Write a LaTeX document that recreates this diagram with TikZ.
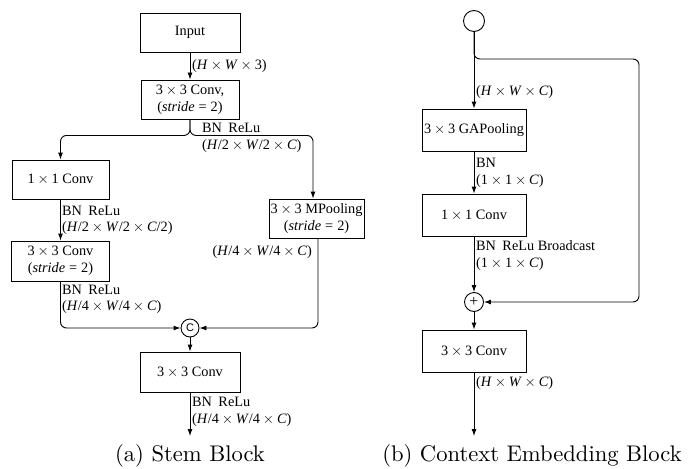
\documentclass[tikz,border=0pt]{standalone}
\usepackage{fontspec}
\newfontfamily\tms{Liberation Serif}
\newfontfamily\hlv{Liberation Sans}
\newfontfamily\capfont{lmroman10-regular.otf}
\usetikzlibrary{arrows.meta,calc}
\newcommand\X{\hspace{0.2em}$\times$\hspace{0.2em}}
\newcommand\Eq{\hspace{0.28em}=\hspace{0.28em}}
\newcommand\I[1]{\textit{#1}}
\newcommand\BR{BN\hspace{0.45em}ReLu}
\begin{document}
\begin{tikzpicture}[x=1pt,y=-1pt,
  box/.style={draw, line width=0.9pt, font=\tms\fontsize{14.3}{17}\selectfont, align=center, inner sep=0pt},
  lbl/.style={font=\tms\fontsize{14.3}{17}\selectfont, inner sep=0pt, anchor=west},
  captext/.style={font=\capfont\fontsize{22.6}{26}\selectfont, inner sep=0pt},
  arr/.style={-{Latex[length=7pt,width=5pt]}, line width=0.9pt},
  joint/.style={circle, draw, line width=0.9pt, inner sep=0pt}]
\useasboundingbox (0,0) rectangle (700,468);

% ---------- (a) Stem Block ----------
\node[box, minimum width=100, minimum height=39] (input) at (190,32.5) {Input};
\node[box, minimum width=98, minimum height=39] (c1) at (190,99.5) {3\X3 Conv,\\(\I{stride}\Eq2)};
\node[box, minimum width=97, minimum height=39] (c11) at (60.5,179.5) {1\X1 Conv};
\node[box, minimum width=98, minimum height=40] (c33) at (60.5,261) {3\X3 Conv\\(\I{stride}\Eq2)};
\node[box, minimum width=95, minimum height=39] (mp) at (316.5,218.5) {3\X3 MPooling\\(\I{stride}\Eq2)};
\node[joint, minimum size=18, font=\hlv\fontsize{11}{11}\selectfont] (cat) at (190,328) {C};
\node[box, minimum width=100, minimum height=40] (c3) at (190,372) {3\X3 Conv};
\coordinate (oa) at (190,436);

\draw[arr] (input) -- (c1);
\draw[arr, rounded corners=6] (c1.south) -- ($(c1.south)+(0,16)$) -| (c11.north);
\draw[arr, rounded corners=6] (c1.south) -- ($(c1.south)+(0,16)$) -| ($(mp.north)+(-3.5,0)$);
\draw[arr] (c11) -- (c33);
\draw[arr, rounded corners=6] (c33.south) |- (cat.west);
\draw[arr, rounded corners=6] ($(mp.south)+(1.5,0)$) |- (cat.east);
\draw[arr] (cat) -- (c3);
\draw[arr] (c3) -- (oa);

\node[lbl] (l1) at (192,66) {(\I{H}\X\I{W}\X3)};
\node[lbl] (l2a) at (202,128) {\BR};
\node[lbl] (l2b) at (202,146) {(\I{H}/2\X\I{W}/2\X\I{C})};
\node[lbl] (l3a) at (62,210.5) {\BR};
\node[lbl] (l3b) at (62,228.5) {(\I{H}/2\X\I{W}/2\X\I{C}/2)};
\node[lbl] (l4a) at (62,289.5) {\BR};
\node[lbl] (l4b) at (62,307.5) {(\I{H}/4\X\I{W}/4\X\I{C})};
\node[lbl, anchor=east] (l5) at (312,252) {(\I{H}/4\X\I{W}/4\X\I{C})};
\node[lbl] (l6a) at (192,402) {\BR};
\node[lbl] (l6b) at (192,420) {(\I{H}/4\X\I{W}/4\X\I{C})};
\node[captext] (capa) at (190,456) {(a) Stem Block};

% ---------- (b) Context Embedding Block ----------
\node[joint, minimum size=21] (top) at (474,21) {};
\node[box, minimum width=104, minimum height=42] (gap) at (474,130) {3\X3 GAPooling};
\node[box, minimum width=104, minimum height=42] (c11b) at (474,215) {1\X1 Conv};
\node[joint, minimum size=19, font=\tms\fontsize{16}{16}\selectfont] (plus) at (474,302) {+};
\node[box, minimum width=104, minimum height=42] (c3b) at (474,351) {3\X3 Conv};
\coordinate (ob) at (474,436);
\coordinate (sk) at (639,59);

\draw[arr] (top) -- (gap);
\draw[arr, rounded corners=6] (top.south) |- (sk) |- (plus.east);
\draw[arr] (gap) -- (c11b);
\draw[arr] (c11b) -- (plus);
\draw[arr] (plus) -- (c3b);
\draw[arr] (c3b) -- (ob);

\node[lbl] (m1) at (476,92) {(\I{H}\X\I{W}\X\I{C})};
\node[lbl] (m2a) at (476,162.5) {BN};
\node[lbl] (m2b) at (476,181) {(1\X1\X\I{C})};
\node[lbl] (m3a) at (476,245.5) {\BR\ Broadcast};
\node[lbl] (m3b) at (476,264) {(1\X1\X\I{C})};
\node[lbl] (m4) at (476,383) {(\I{H}\X\I{W}\X\I{C})};
\node[captext] (capb) at (532,456) {(b) Context Embedding Block};
\end{tikzpicture}
\end{document}
